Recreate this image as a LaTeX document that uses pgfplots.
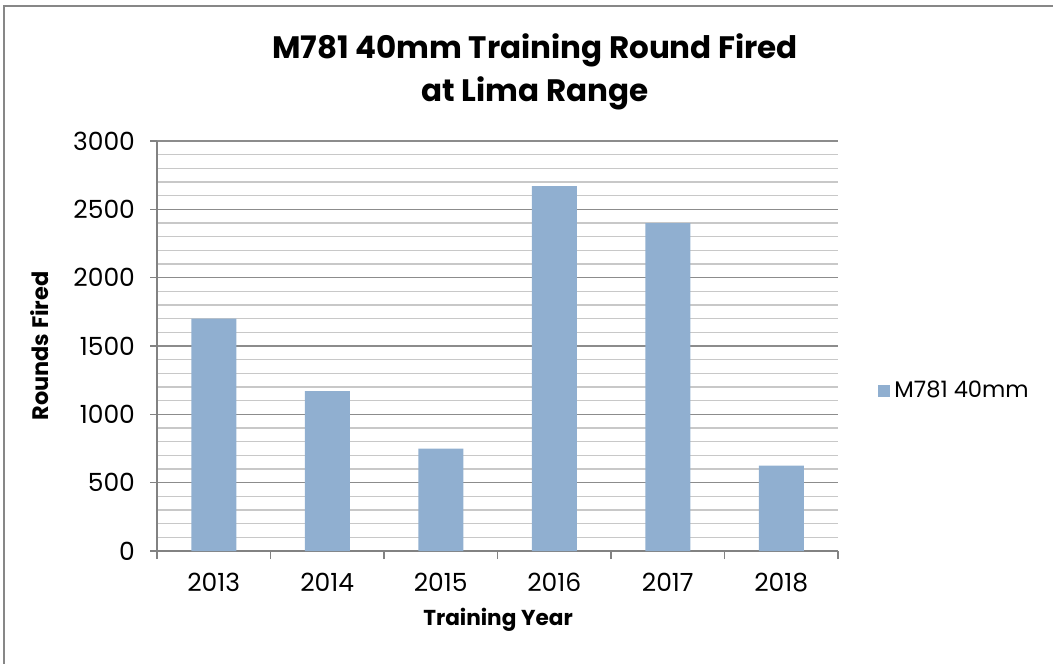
\documentclass[border=0pt]{standalone}
\usepackage{fontspec}
\setmainfont{Poppins}
\usepackage{pgfplots}
\pgfplotsset{compat=1.18}
\definecolor{barblue}{RGB}{144,175,208}
\definecolor{majgrid}{RGB}{140,140,140}
\definecolor{mingrid}{RGB}{200,200,200}
\definecolor{axgray}{RGB}{130,130,130}
\definecolor{framegray}{RGB}{135,135,135}
\begin{document}
\begin{tikzpicture}
\useasboundingbox (0,0) rectangle (526.5pt,-331.5pt);
\draw[framegray, line width=1.2pt] (2pt,-340pt) -- (2pt,-3pt) -- (540pt,-3pt);
\node[font=\bfseries\fontsize{15.5}{17}\selectfont] at (267.5pt,-25pt) {M781 40mm Training Round Fired};
\node[font=\bfseries\fontsize{15.5}{17}\selectfont] at (267.5pt,-46.5pt) {at Lima Range};
\node[font=\bfseries\fontsize{11.2}{13}\selectfont, rotate=90] at (20pt,-173pt) {Rounds Fired};
\node[font=\bfseries\fontsize{10.8}{12}\selectfont] at (249pt,-310pt) {Training Year};
\begin{axis}[
  scale only axis, width=340.5pt, height=205pt,
  at={(78.5pt,-275.5pt)}, anchor=south west,
  xmin=-0.5, xmax=5.5, ymin=0, ymax=3000,
  axis x line*=bottom, axis y line*=left,
  axis line style={draw=axgray, line width=0.7pt, -},
  ytick={0,500,...,3000}, minor y tick num=4,
  ymajorgrids, yminorgrids,
  major grid style={draw=majgrid, line width=0.75pt},
  minor grid style={draw=mingrid, line width=0.7pt},
  xtick={0,...,5}, xticklabels={2013,2014,2015,2016,2017,2018},
  minor xtick={-0.5,0.5,...,5.5},
  tick align=outside, major tick length=3.5pt, minor tick length=4pt,
  major x tick style={draw=none},
  minor y tick style={draw=none},
  tick style={draw=axgray, line width=0.7pt},
  /pgf/number format/assume math mode=true,
  /pgf/number format/1000 sep={},
  ticklabel style={font=\fontsize{12.5}{14}\selectfont, text=black},
  yticklabel style={xshift=-4pt},
  xticklabel style={yshift=-4pt},
  legend style={at={(1.05,0.39)}, anchor=west, draw=none, fill=none,
    font=\fontsize{11.3}{13}\selectfont},
  legend image code/.code={\fill[barblue] (0pt,-3pt) rectangle (6pt,3pt);},
]
\addplot[ybar, bar width=22.5pt, fill=barblue, draw=none]
  coordinates {(0,1700) (1,1170) (2,750) (3,2670) (4,2400) (5,625)};
\addlegendentry{M781 40mm}
\end{axis}
\end{tikzpicture}
\end{document}
